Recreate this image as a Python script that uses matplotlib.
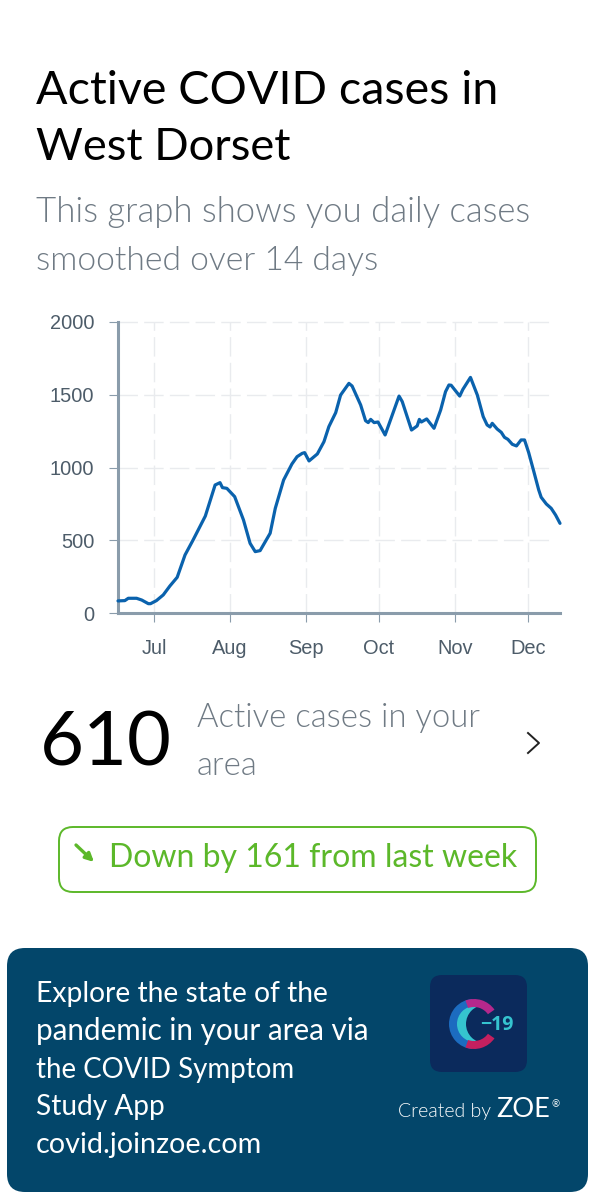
import pandas as pd
from matplotlib import pyplot as plt
from matplotlib.patches import FancyBboxPatch, Wedge, Circle

# days counted from 1 Jul
days = [-14.7, -11.9, -10.5, -7.1, -5, -2.3, -1.4, 1, 3.8, 6.5, 9.5, 12.7, 16, 21, 25, 27, 28, 29.8,
        33, 36.6, 39.3, 41.4, 43.4, 47.5, 49.6, 53, 56.4, 58.5, 60.6, 61.6, 63.4, 66.8, 69.5, 71.5,
        74.3, 76.3, 79.7, 81, 84.5, 86.5, 87.6, 88.6, 90, 91.6, 94.5, 100.2, 101.5, 105.3, 107.6,
        108.5, 109.3, 111.5, 114.5, 117.2, 119.2, 120.6, 121.5, 125, 126.3, 129.4, 132.2, 134.6,
        136.2, 137.4, 138.3, 140.3, 142, 143.3, 144.7, 146.5, 148.2, 150.1, 151.5, 153.2, 155.3,
        157.3, 158.3, 160.4, 162.4, 164.2, 166]
cases = [85, 87, 103, 103, 91, 66, 66, 87, 126, 187, 247, 400, 503, 667, 880, 896, 862, 857,
         800, 640, 480, 423, 430, 549, 720, 914, 1024, 1074, 1097, 1102, 1045, 1093, 1177, 1280,
         1376, 1497, 1577, 1559, 1429, 1321, 1308, 1330, 1308, 1312, 1223, 1490, 1452, 1257, 1285,
         1330, 1312, 1333, 1269, 1394, 1520, 1566, 1564, 1490, 1536, 1618, 1497, 1349,
         1292, 1278, 1303, 1264, 1241, 1207, 1193, 1159, 1148, 1189, 1189, 1102, 972,
         846, 796, 750, 720, 674, 617]
month_starts = [0, 31, 62, 92, 123, 153]
month_labels = ['Jul', 'Aug', 'Sep', 'Oct', 'Nov', 'Dec']
y_ticks = [0, 500, 1000, 1500, 2000]
banner_lines = ['Explore the state of the', 'pandemic in your area via', 'the COVID Symptom',
                'Study App', 'covid.joinzoe.com']

W, H = 595, 1200
GREEN = '#5cb82a'
PANEL = '#03466a'
GREY = '#6f7a84'
CYAN = '#35c4cf'
NAVY = '#0b2a5c'


def main():
    fig = plt.figure(figsize=(W / 100, H / 100), dpi=100)

    # page layer in pixel coordinates, for everything round the chart
    bg = fig.add_axes([0, 0, 1, 1])
    bg.set_xlim(0, W)
    bg.set_ylim(H, 0)
    bg.axis('off')

    def label(x, y, s, size, color='black', weight=400, family='Lato', **kw):
        bg.text(x, y, s, fontsize=size, color=color, weight=weight, family=family, va='baseline', **kw)

    label(36, 103.5, 'Active COVID cases in', 33.6)
    label(36, 159.5, 'West Dorset', 32.6)
    label(36, 222, 'This graph shows you daily cases', 25, GREY, 300)
    label(36, 270, 'smoothed over 14 days', 24.2, GREY, 300)

    label(40, 765, '610', 54.6)
    label(197, 727, 'Active cases in your', 23.7, GREY, 300)
    label(197, 775, 'area', 23.7, GREY, 300)
    bg.plot([528, 539, 528], [733, 743, 753], color='#222222', lw=1.4)

    bg.add_patch(FancyBboxPatch((59 + 14, 827 + 14), 477 - 28, 65 - 28, boxstyle='round,pad=14',
                                fc='white', ec=GREEN, lw=1.4))
    bg.annotate('', xy=(94, 862), xytext=(76, 845),
                arrowprops=dict(arrowstyle='-|>', color=GREEN, lw=2.4, mutation_scale=12, shrinkA=0, shrinkB=0))
    label(109, 867, 'Down by 161 from last week', 23, GREEN)

    # bottom banner
    bg.add_patch(FancyBboxPatch((7 + 18, 948 + 18), 581 - 36, 244 - 36, boxstyle='round,pad=18',
                                fc=PANEL, ec='none'))
    for y, s, size in zip([1002, 1040, 1078, 1115, 1153], banner_lines, [20.3, 21.3, 19.9, 20.2, 20.7]):
        label(36, y, s, size, 'white')

    # app logo
    bg.add_patch(FancyBboxPatch((430 + 12, 975 + 12), 97 - 24, 97 - 24, boxstyle='round,pad=12',
                                fc=NAVY, ec='none'))
    bg.add_patch(Wedge((474, 1024), 25, 95, 265, fc='#1c6cc0', ec='none'))
    bg.add_patch(Circle((475, 1024), 18, fc=CYAN, ec='none'))
    bg.add_patch(Circle((485, 1024), 19, fc=NAVY, ec='none'))
    bg.add_patch(Wedge((474, 1024), 25, 250, 325, width=8, fc='#b4288c', ec='none'))
    bg.add_patch(Wedge((474, 1024), 25, 35, 110, width=8, fc='#c4205f', ec='none'))
    label(480, 1030, '\u221219', 14, CYAN, 'bold', 'Open Sans')

    label(398, 1117, 'Created by', 14, 'white', 300)
    label(496, 1117, 'ZOE', 19.5, 'white')
    label(551, 1107, '\u00ae', 7, 'white')

    # the chart itself
    ax = fig.add_axes([118 / W, 1 - 613.3 / H, (560 - 118) / W, 291.6 / H])
    ax.patch.set_alpha(0)
    start = pd.Timestamp('2020-07-01')
    dates = start + pd.to_timedelta(days, unit='D')
    ticks = start + pd.to_timedelta(month_starts, unit='D')

    ax.vlines(ticks, 0, 2000, color='#e9ebee', lw=1, linestyles=(0, (14, 4.5)), zorder=1)
    ax.hlines(y_ticks[1:], dates[0], start + pd.Timedelta(days=162.6), color='#e9ebee', lw=1,
              linestyles=(0, (14, 4.5)), zorder=1, clip_on=False)
    ax.plot(dates, cases, color='#0a62ad', lw=2.3, zorder=3, solid_joinstyle='round',
            solid_capstyle='round', clip_on=False)

    ax.set_xlim(dates[0], dates[-1])
    ax.set_ylim(0, 2000)
    ax.set_xticks(ticks)
    ax.set_xticklabels(month_labels)
    ax.set_yticks(y_ticks)
    for s in ['top', 'right']:
        ax.spines[s].set_visible(False)
    for s in ['left', 'bottom']:
        ax.spines[s].set_color('#8a9cab')
        ax.spines[s].set_linewidth(2.2)
    ax.tick_params(axis='y', length=6.5, width=0.8, color='#8a9cab', pad=10.5)
    ax.tick_params(axis='x', length=6.5, width=0.8, color='#8a9cab', pad=12)
    for t in ax.get_xticklabels() + ax.get_yticklabels():
        t.set_family('Liberation Sans')
        t.set_fontsize(14.4)
        t.set_color('#4d5c69')

    plt.savefig('out.png', dpi=100)


if __name__ == '__main__':
    main()
